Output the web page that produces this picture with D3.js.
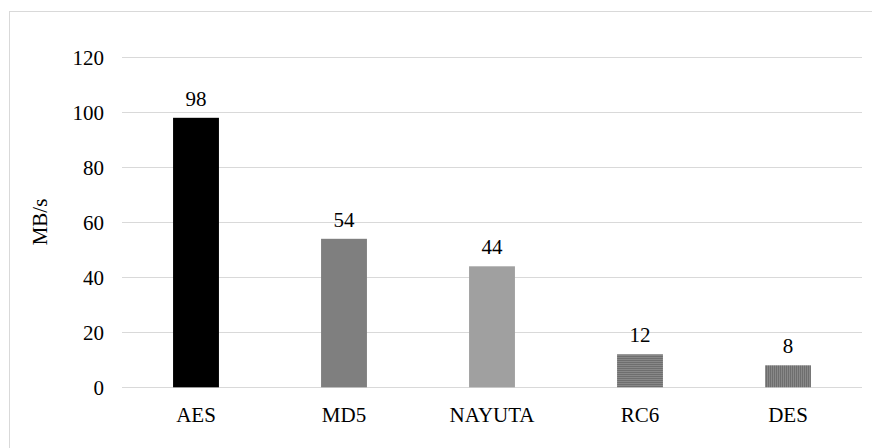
<!DOCTYPE html>
<html>
<head>
<meta charset="utf-8">
<script src="https://cdn.jsdelivr.net/npm/d3@7"></script>
<style>
  html, body { margin: 0; padding: 0; background: #fff; }
  svg { display: block; font-family: "Liberation Serif", "Times New Roman", Times, serif; }
  svg text { font-family: "Liberation Serif", "Times New Roman", Times, serif !important; font-size: 21px; fill: #000; }
</style>
</head>
<body>
<svg id="chart" width="872" height="448"></svg>
<script>
// Throughput of each algorithm
const algorithms = ["AES", "MD5", "NAYUTA", "RC6", "DES"];
const throughput = [98, 54, 44, 12, 8];
const yTicks = [0, 20, 40, 60, 80, 100, 120];
const yLabel = "MB/s";
const barFills = ["#000000", "#7f7f7f", "#a0a0a0", "url(#hstripe)", "url(#vstripe)"];

const W = 872;
const margin = { left: 122, right: 10 };
const svg = d3.select("#chart");

// fine stripe patterns for the last two bars
const defs = svg.append("defs");
const h = defs.append("pattern").attr("id", "hstripe").attr("patternUnits", "userSpaceOnUse")
  .attr("width", 4).attr("height", 2);
h.append("rect").attr("width", 4).attr("height", 2).attr("fill", "#888888");
h.append("rect").attr("width", 4).attr("height", 1).attr("fill", "#6e6e6e");
const v = defs.append("pattern").attr("id", "vstripe").attr("patternUnits", "userSpaceOnUse")
  .attr("width", 2).attr("height", 4);
v.append("rect").attr("width", 2).attr("height", 4).attr("fill", "#888888");
v.append("rect").attr("width", 1).attr("height", 4).attr("fill", "#6e6e6e");

// chart frame (open on the right and bottom edges)
svg.append("rect").attr("x", 9.5).attr("y", 11.5).attr("width", 900).attr("height", 500)
  .attr("fill", "none").attr("stroke", "#d9d9d9").attr("stroke-width", 1);

const x = d3.scaleBand().domain(algorithms)
  .range([margin.left, W - margin.right]).paddingInner(0.69).paddingOuter(0.345);
const y = d3.scaleLinear().domain([0, 120]).range([387.3, 57.3]);

// gridlines
svg.append("g").selectAll("line").data(yTicks).join("line")
  .attr("x1", margin.left).attr("x2", W - margin.right)
  .attr("y1", d => Math.round(y(d)) + 0.5).attr("y2", d => Math.round(y(d)) + 0.5)
  .attr("stroke", "#d9d9d9").attr("stroke-width", 1);

// y axis labels
const yAxis = svg.append("g").attr("transform", `translate(${margin.left},0)`)
  .call(d3.axisLeft(y).tickValues(yTicks).tickSize(0).tickPadding(18))
  .attr("font-family", null).attr("font-size", null);
yAxis.select(".domain").remove();

// bars
svg.append("g").selectAll("rect").data(algorithms).join("rect")
  .attr("x", d => x(d))
  .attr("y", (d, i) => y(throughput[i]))
  .attr("width", x.bandwidth())
  .attr("height", (d, i) => y(0) - y(throughput[i]))
  .attr("fill", (d, i) => barFills[i]);

// value labels
svg.append("g").selectAll("text").data(algorithms).join("text")
  .attr("x", d => x(d) + x.bandwidth() / 2)
  .attr("y", (d, i) => y(throughput[i]) - 12)
  .attr("text-anchor", "middle")
  .text((d, i) => throughput[i]);

// x axis labels
const xAxis = svg.append("g").attr("transform", `translate(0,${y(0)})`)
  .call(d3.axisBottom(x).tickSize(0).tickPadding(20))
  .attr("font-family", null).attr("font-size", null);
xAxis.select(".domain").remove();

// y axis title
svg.append("text")
  .attr("transform", "translate(47,222) rotate(-90)")
  .attr("text-anchor", "middle")
  .text(yLabel);
</script>
</body>
</html>
